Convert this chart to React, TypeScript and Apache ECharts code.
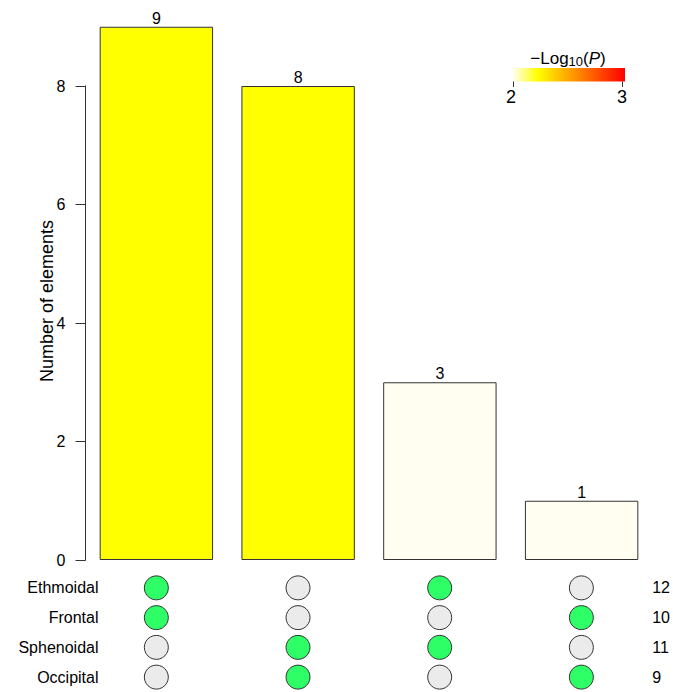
import React, { useEffect, useRef } from "react";
import * as echarts from "echarts";

const sets = ["Ethmoidal", "Frontal", "Sphenoidal", "Occipital"];
const setSizes = [12, 10, 11, 9];
const intersections = [
  "Ethmoidal & Frontal",
  "Sphenoidal & Occipital",
  "Ethmoidal & Sphenoidal",
  "Frontal & Occipital",
];
// membership[i][j]: intersection i contains set j
const membership = [
  [1, 1, 0, 0],
  [0, 0, 1, 1],
  [1, 0, 1, 0],
  [0, 1, 0, 1],
];
const intersectionSizes = [9, 8, 3, 1];
const barFill = ["#FFFF00", "#FFFF00", "#FFFEF0", "#FFFEF0"];
const yTicks = [0, 2, 4, 6, 8];
const legendTicks = ["2", "3"];

const FONT = "Liberation Sans, Arial, Helvetica, sans-serif";
const GREEN = "#2EFF66";
const GREY = "#EBEBEB";
const EDGE = "#333333";

const GRID_LEFT = 85.5;
const GRID_WIDTH = 567;

export default function App() {
  const ref = useRef<HTMLDivElement>(null);

  useEffect(() => {
    if (!ref.current) return;
    const chart = echarts.init(ref.current, null, { renderer: "svg" });

    const dots: any[] = [];
    membership.forEach((row, i) => {
      row.forEach((m, j) => {
        dots.push({
          value: [intersections[i], sets[j], m],
          itemStyle: { color: m ? GREEN : GREY },
        });
      });
    });

    const legendGraphics: any[] = [
      {
        type: "text",
        x: 568,
        y: 58,
        style: {
          text: "{a|\u2212Log}{s|10}{a|(}{i|P}{a|)}",
          align: "center",
          verticalAlign: "middle",
          fill: "#000",
          rich: {
            a: { fontSize: 17, fontFamily: FONT, fill: "#000" },
            s: { fontSize: 13, fontFamily: FONT, fill: "#000", padding: [6, 0, 0, 0] },
            i: { fontSize: 17, fontFamily: FONT, fontStyle: "italic", fill: "#000" },
          },
        },
      },
      {
        type: "rect",
        shape: { x: 513, y: 68, width: 112, height: 13.5 },
        style: {
          fill: new echarts.graphic.LinearGradient(0, 0, 1, 0, [
            { offset: 0, color: "#FFFFF2" },
            { offset: 0.22, color: "#FFFF00" },
            { offset: 1, color: "#FF0000" },
          ]),
        },
      },
      {
        type: "line",
        shape: { x1: 513.5, y1: 81.5, x2: 513.5, y2: 87 },
        style: { stroke: EDGE, lineWidth: 1 },
      },
      {
        type: "line",
        shape: { x1: 622.5, y1: 81.5, x2: 622.5, y2: 87 },
        style: { stroke: EDGE, lineWidth: 1 },
      },
      {
        type: "text",
        x: 511,
        y: 97,
        style: {
          text: legendTicks[0],
          align: "center",
          verticalAlign: "middle",
          fontSize: 18,
          fontFamily: FONT,
          fill: "#000",
        },
      },
      {
        type: "text",
        x: 622,
        y: 97,
        style: {
          text: legendTicks[1],
          align: "center",
          verticalAlign: "middle",
          fontSize: 18,
          fontFamily: FONT,
          fill: "#000",
        },
      },
      {
        type: "text",
        x: 46.5,
        y: 301,
        rotation: Math.PI / 2,
        style: {
          text: "Number of elements",
          align: "center",
          verticalAlign: "middle",
          fontSize: 18,
          fontFamily: FONT,
          fill: "#000",
        },
      },
    ];

    const option: any = {
      animation: false,
      backgroundColor: "#FFFFFF",
      textStyle: { fontFamily: FONT },
      grid: [
        { left: GRID_LEFT, width: GRID_WIDTH, top: 26.75, height: 533.25 },
        { left: GRID_LEFT, width: GRID_WIDTH, top: 573, height: 120 },
      ],
      xAxis: [
        {
          type: "category",
          gridIndex: 0,
          data: intersections,
          axisLine: { show: false },
          axisTick: { show: false },
          axisLabel: { show: false },
        },
        {
          type: "category",
          gridIndex: 1,
          data: intersections,
          axisLine: { show: false },
          axisTick: { show: false },
          axisLabel: { show: false },
        },
      ],
      yAxis: [
        {
          type: "value",
          gridIndex: 0,
          min: 0,
          max: 9,
          splitLine: { show: false },
          axisLine: { show: false },
          axisTick: {
            show: true,
            length: 10,
            customValues: yTicks,
            lineStyle: { color: EDGE, width: 1 },
          },
          axisLabel: {
            customValues: yTicks,
            fontSize: 16,
            color: "#000",
            margin: 20,
            fontFamily: FONT,
          },
        },
        {
          type: "category",
          gridIndex: 1,
          data: sets,
          inverse: true,
          axisLine: { show: false },
          axisTick: { show: false },
          axisLabel: {
            fontSize: 16,
            color: "#000",
            margin: -13,
            fontFamily: FONT,
          },
        },
        {
          type: "category",
          gridIndex: 1,
          position: "right",
          data: setSizes.map(String),
          inverse: true,
          axisLine: { show: false },
          axisTick: { show: false },
          axisLabel: {
            fontSize: 16,
            color: "#000",
            margin: 0,
            align: "left",
            fontFamily: FONT,
          },
        },
      ],
      series: [
        {
          type: "bar",
          xAxisIndex: 0,
          yAxisIndex: 0,
          barWidth: "80%",
          data: intersectionSizes.map((v, i) => ({
            value: v,
            itemStyle: { color: barFill[i] },
          })),
          itemStyle: { borderColor: EDGE, borderWidth: 1 },
          label: {
            show: true,
            position: "top",
            distance: 0.5,
            fontSize: 16,
            color: "#000",
            fontFamily: FONT,
          },
        },
        {
          type: "scatter",
          xAxisIndex: 1,
          yAxisIndex: 1,
          symbol: "circle",
          symbolSize: 24,
          data: dots,
          itemStyle: { borderColor: EDGE, borderWidth: 1, opacity: 1 },
        },
      ],
      graphic: legendGraphics,
    };

    chart.setOption(option);
    const y0 = chart.convertToPixel({ yAxisIndex: 0 } as any, 0) as number;
    const y8 = chart.convertToPixel({ yAxisIndex: 0 } as any, 8) as number;
    chart.setOption({
      graphic: [
        ...legendGraphics,
        {
          type: "line",
          shape: { x1: GRID_LEFT, y1: y0 + 0.5, x2: GRID_LEFT, y2: y8 - 0.5 },
          style: { stroke: EDGE, lineWidth: 1 },
        },
      ],
    });

    return () => chart.dispose();
  }, []);

  return (
    <div
      ref={ref}
      style={{ position: "fixed", left: 0, top: 0, width: 673, height: 692, background: "#fff" }}
    />
  );
}
